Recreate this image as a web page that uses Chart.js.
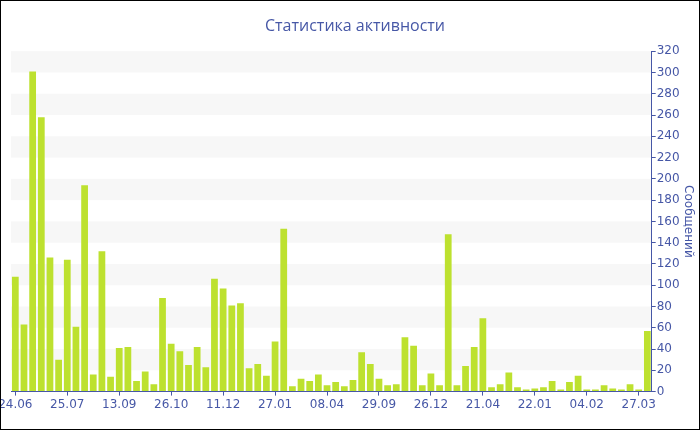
<!DOCTYPE html>
<html>
<head>
<meta charset="utf-8">
<script src="https://cdn.jsdelivr.net/npm/chart.js@4/dist/chart.umd.min.js"></script>
<style>
  html, body { margin: 0; padding: 0; background: #fff; }
  #wrap { width: 698px; height: 428px; border: 1px solid #000; position: relative; }
</style>
</head>
<body>
<div id="wrap"><canvas id="chart" width="698" height="428"></canvas></div>
<script>
(function () {

  var chartTitle = 'Статистика активности';
  var axisTitle = 'Сообщений';

  // one label every 6 bars
  var tickLabels = ['24.06', '25.07', '13.09', '26.10', '11.12', '27.01', '08.04',
                    '29.09', '26.12', '21.04', '22.01', '04.02', '27.03'];

  var messages = [
    108, 63, 301, 258, 126, 30, 124, 61, 194, 16,
    132, 14, 41, 42, 10, 19, 7, 88, 45, 38,
    25, 42, 23, 106, 97, 81, 83, 22, 26, 15,
    47, 153, 5, 12, 10, 16, 6, 9, 5, 11,
    37, 26, 12, 6, 7, 51, 43, 6, 17, 6,
    148, 6, 24, 42, 69, 4, 7, 18, 4, 2,
    3, 4, 10, 2, 9, 15, 2, 2, 6, 3,
    2, 7, 2, 57
  ];

  var blue = '#4657a6';
  var tickEvery = 6;

  var labels = messages.map(function (v, i) {
    return i % tickEvery === 0 ? tickLabels[i / tickEvery] : '';
  });

  // alternating grey bands behind the bars
  var bandsPlugin = {
    id: 'bands',
    beforeDraw: function (chart) {
      var ctx = chart.ctx;
      var area = chart.chartArea;
      var y = chart.scales.y;
      ctx.save();
      ctx.fillStyle = '#f7f7f7';
      for (var v = 20; v < 320; v += 40) {
        var top = y.getPixelForValue(v + 20);
        var bot = y.getPixelForValue(v);
        ctx.fillRect(area.left, top, area.right - area.left, bot - top);
      }
      ctx.restore();
    }
  };

  new Chart(document.getElementById('chart').getContext('2d'), {
    type: 'bar',
    data: {
      labels: labels,
      datasets: [{
        label: axisTitle,
        data: messages,
        backgroundColor: '#bde12f',
        borderWidth: 0,
        categoryPercentage: 1,
        barPercentage: 0.78
      }]
    },
    plugins: [bandsPlugin],
    options: {
      responsive: false,
      animation: false,
      layout: { padding: { left: 10, right: 0, top: 6, bottom: 15 } },
      plugins: {
        legend: { display: false },
        tooltip: { enabled: false },
        title: {
          display: true,
          text: chartTitle,
          color: blue,
          font: { family: 'Open Sans', size: 16, weight: 'normal' },
          padding: { top: 10, bottom: 15 }
        }
      },
      scales: {
        x: {
          offset: true,
          // let the first label run off the left edge like the original
          afterFit: function (scale) { scale.paddingLeft = 0; },
          grid: {
            display: true,
            offset: false,
            drawOnChartArea: false,
            tickLength: 4,
            tickColor: function (c) {
              return c.index % tickEvery === 0 ? blue : 'rgba(0,0,0,0)';
            }
          },
          border: { color: blue, width: 1 },
          ticks: {
            autoSkip: false,
            maxRotation: 0,
            color: blue,
            padding: 2,
            font: { family: 'DejaVu Sans', size: 12 }
          }
        },
        y: {
          position: 'right',
          min: 0,
          max: 320,
          grid: {
            display: true,
            drawOnChartArea: false,
            tickLength: 4,
            tickColor: blue
          },
          border: { color: blue, width: 1 },
          ticks: {
            stepSize: 10,
            color: blue,
            padding: 1,
            font: { family: 'DejaVu Sans', size: 12 },
            callback: function (v) { return v % 20 === 0 ? v : ''; }
          },
          title: {
            display: true,
            text: axisTitle,
            color: blue,
            font: { family: 'DejaVu Sans', size: 12 },
            padding: { top: 4, bottom: 0 }
          }
        }
      }
    }
  });
})();
</script>
</body>
</html>
